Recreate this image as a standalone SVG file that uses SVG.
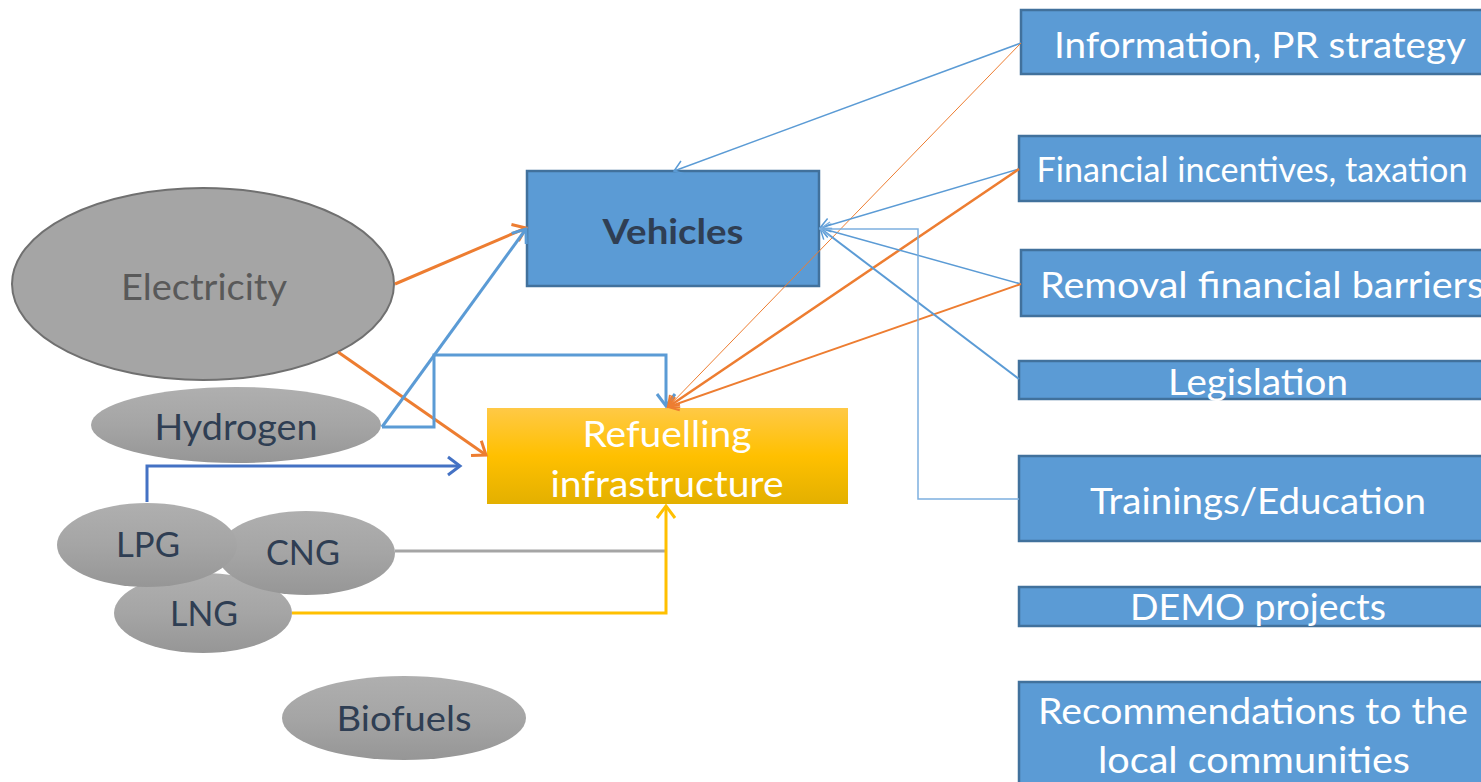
<svg xmlns="http://www.w3.org/2000/svg" width="1481" height="782" viewBox="0 0 1481 782">
<style>
.box{fill:#5B9BD5;stroke:#41719C;stroke-width:2.5}
.wt{font-family:Lato,"Open Sans",sans-serif;fill:#FFFFFF;text-anchor:middle}
.dk{font-family:Lato,"Open Sans",sans-serif;fill:#2F3E53;text-anchor:middle}
.ln{fill:none;stroke-linejoin:miter}
</style>
<defs>
<linearGradient id="gy" x1="0" y1="0" x2="0" y2="1">
<stop offset="0" stop-color="#FFC946"/>
<stop offset="0.5" stop-color="#FFC000"/>
<stop offset="1" stop-color="#E3B000"/>
</linearGradient>
<linearGradient id="gg" x1="0" y1="0" x2="0" y2="1">
<stop offset="0" stop-color="#AFAFAF"/>
<stop offset="0.5" stop-color="#A5A5A5"/>
<stop offset="1" stop-color="#969696"/>
</linearGradient>
<marker id="mor" markerUnits="userSpaceOnUse" markerWidth="14" markerHeight="20" refX="12" refY="9" orient="auto" overflow="visible"><path d="M0,0 L12,9 L0,18" fill="none" stroke="#ED7D31" stroke-width="3"/></marker>
<marker id="mbl" markerUnits="userSpaceOnUse" markerWidth="14" markerHeight="20" refX="12" refY="9" orient="auto" overflow="visible"><path d="M0,0 L12,9 L0,18" fill="none" stroke="#5B9BD5" stroke-width="3"/></marker>
<marker id="mdb" markerUnits="userSpaceOnUse" markerWidth="14" markerHeight="20" refX="12" refY="9" orient="auto" overflow="visible"><path d="M0,0 L12,9 L0,18" fill="none" stroke="#4472C4" stroke-width="3"/></marker>
<marker id="mye" markerUnits="userSpaceOnUse" markerWidth="14" markerHeight="20" refX="12" refY="9" orient="auto" overflow="visible"><path d="M0,0 L12,9 L0,18" fill="none" stroke="#FFC000" stroke-width="3"/></marker>
<marker id="mblt" markerUnits="userSpaceOnUse" markerWidth="12" markerHeight="16" refX="10" refY="7" orient="auto" overflow="visible"><path d="M0,0 L10,7 L0,14" fill="none" stroke="#5B9BD5" stroke-width="1.5"/></marker>
<marker id="mort" markerUnits="userSpaceOnUse" markerWidth="12" markerHeight="16" refX="10" refY="7" orient="auto" overflow="visible"><path d="M0,0 L10,7 L0,14" fill="none" stroke="#ED7D31" stroke-width="2"/></marker>
<marker id="mlb" markerUnits="userSpaceOnUse" markerWidth="12" markerHeight="16" refX="10" refY="7" orient="auto" overflow="visible"><path d="M0,0 L10,7 L0,14" fill="none" stroke="#7EB0E0" stroke-width="1.5"/></marker>
</defs>
<rect width="1481" height="782" fill="#FFFFFF"/>

<g id="info"><rect class="box" x="1021" y="10" width="470" height="64"/><text class="wt" x="1260" y="58" font-size="37" textLength="412" lengthAdjust="spacingAndGlyphs">Information, PR strategy</text></g>
<g id="financial"><rect class="box" x="1019" y="136" width="472" height="65"/><text class="wt" x="1252" y="182" font-size="34" textLength="431" lengthAdjust="spacingAndGlyphs">Financial incentives,  taxation</text></g>
<g id="removal"><rect class="box" x="1021" y="250" width="470" height="66"/><text class="wt" x="1262" y="298" font-size="36" textLength="444" lengthAdjust="spacingAndGlyphs">Removal financial barriers</text></g>
<g id="legislation"><rect class="box" x="1019" y="361" width="472" height="38"/><text class="wt" x="1258" y="395" font-size="36" textLength="180" lengthAdjust="spacingAndGlyphs">Legislation</text></g>
<g id="trainings"><rect class="box" x="1019" y="456" width="472" height="85"/><text class="wt" x="1258" y="514" font-size="36" textLength="336" lengthAdjust="spacingAndGlyphs">Trainings/Education</text></g>
<g id="demo"><rect class="box" x="1019" y="587" width="472" height="39"/><text class="wt" x="1258" y="620" font-size="37" textLength="256" lengthAdjust="spacingAndGlyphs">DEMO projects</text></g>
<g id="recommendations"><rect class="box" x="1019" y="682" width="472" height="120"/><text class="wt" x="1253" y="724" font-size="36" textLength="430" lengthAdjust="spacingAndGlyphs">Recommendations to the</text><text class="wt" x="1254" y="773" font-size="36" textLength="312" lengthAdjust="spacingAndGlyphs">local communities</text></g>

<g id="vehicles"><rect class="box" x="527" y="171" width="292" height="115"/><text class="dk" x="673" y="244" font-size="35" font-weight="bold" textLength="141" lengthAdjust="spacingAndGlyphs">Vehicles</text></g>
<g id="refuelling"><rect x="487" y="408" width="361" height="96" fill="url(#gy)"/><text class="wt" x="667" y="447" font-size="36" textLength="169" lengthAdjust="spacingAndGlyphs">Refuelling</text><text class="wt" x="667" y="497" font-size="36" textLength="233" lengthAdjust="spacingAndGlyphs">infrastructure</text></g>

<g id="electricity"><ellipse cx="203" cy="284" rx="191" ry="96" fill="#A5A5A5" stroke="#707070" stroke-width="2"/><text x="204" y="300" font-family="Lato,'Open Sans',sans-serif" font-size="36" fill="#595959" text-anchor="middle" textLength="166" lengthAdjust="spacingAndGlyphs">Electricity</text></g>
<g id="hydrogen"><ellipse cx="236" cy="425" rx="145" ry="38" fill="url(#gg)"/><text class="dk" x="236" y="440" font-size="36" textLength="163" lengthAdjust="spacingAndGlyphs">Hydrogen</text></g>
<g id="lng"><ellipse cx="203" cy="613" rx="89" ry="40" fill="url(#gg)"/><text class="dk" x="204" y="626" font-size="35" textLength="68" lengthAdjust="spacingAndGlyphs">LNG</text></g>
<g id="cng"><ellipse cx="306" cy="553" rx="89" ry="42" fill="url(#gg)"/><text class="dk" x="303" y="565" font-size="35" textLength="74" lengthAdjust="spacingAndGlyphs">CNG</text></g>
<g id="lpg"><ellipse cx="147" cy="545" rx="90" ry="42" fill="url(#gg)"/><text class="dk" x="148" y="557" font-size="35" textLength="64" lengthAdjust="spacingAndGlyphs">LPG</text></g>
<g id="biofuels"><ellipse cx="404" cy="718" rx="122" ry="42" fill="url(#gg)"/><text class="dk" x="404" y="731" font-size="35" textLength="135" lengthAdjust="spacingAndGlyphs">Biofuels</text></g>

<g id="connectors">
<line class="ln" x1="395" y1="284" x2="526" y2="228" stroke="#ED7D31" stroke-width="3" marker-end="url(#mor)"/>
<line class="ln" x1="338" y1="352" x2="486" y2="455" stroke="#ED7D31" stroke-width="3" marker-end="url(#mor)"/>
<line class="ln" x1="382" y1="427" x2="526" y2="229" stroke="#5B9BD5" stroke-width="3" marker-end="url(#mbl)"/>
<polyline class="ln" points="382,427 434,427 434,355 666,355 666,406" stroke="#5B9BD5" stroke-width="3" marker-end="url(#mbl)"/>
<polyline class="ln" points="147,502 147,466 460,466" stroke="#4472C4" stroke-width="3" marker-end="url(#mdb)"/>
<line class="ln" x1="395" y1="551" x2="666" y2="551" stroke="#A5A5A5" stroke-width="3"/>
<polyline class="ln" points="292,613 666,613 666,506" stroke="#FFC000" stroke-width="3" marker-end="url(#mye)"/>
<line class="ln" x1="1021" y1="43" x2="674" y2="171" stroke="#5B9BD5" stroke-width="1.5" marker-end="url(#mblt)"/>
<line class="ln" x1="1021" y1="43" x2="668" y2="407" stroke="#ED7D31" stroke-width="1" marker-end="url(#mort)"/>
<line class="ln" x1="1019" y1="169" x2="820" y2="228" stroke="#5B9BD5" stroke-width="1.5" marker-end="url(#mblt)"/>
<line class="ln" x1="1019" y1="169" x2="668" y2="407" stroke="#ED7D31" stroke-width="2.5" marker-end="url(#mort)"/>
<line class="ln" x1="1021" y1="284" x2="820" y2="228" stroke="#5B9BD5" stroke-width="1.5" marker-end="url(#mblt)"/>
<line class="ln" x1="1021" y1="284" x2="668" y2="407" stroke="#ED7D31" stroke-width="2" marker-end="url(#mort)"/>
<line class="ln" x1="1019" y1="379" x2="820" y2="228" stroke="#5B9BD5" stroke-width="2" marker-end="url(#mblt)"/>
<polyline class="ln" points="1019,499 918,499 918,229 820,229" stroke="#7EB0E0" stroke-width="1.5" marker-end="url(#mlb)"/>
</g>
</svg>
